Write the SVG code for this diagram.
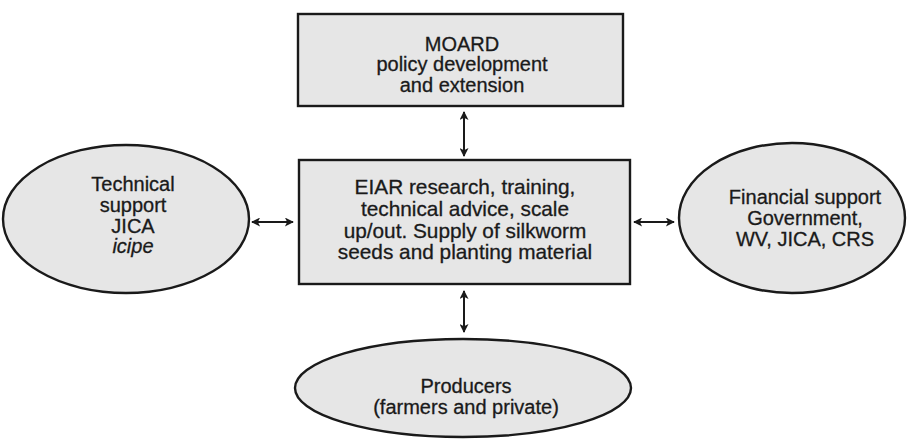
<svg xmlns="http://www.w3.org/2000/svg" width="907" height="444" viewBox="0 0 907 444">
<style>
.shape{fill:#e6e6e6;stroke:#1a1a1a;stroke-width:2.4}
.t{font-family:"Liberation Sans",Arial,sans-serif;font-size:20px;fill:#1a1a1a;stroke:#1a1a1a;stroke-width:0.3;text-anchor:middle}
.e{font-size:20.8px}
.c{stroke:#1a1a1a;stroke-width:2;fill:none;marker-start:url(#ah);marker-end:url(#ah)}
</style>
<defs>
<marker id="ah" viewBox="0 0 10 10" refX="9" refY="5" markerWidth="11" markerHeight="9" markerUnits="userSpaceOnUse" orient="auto-start-reverse">
<path d="M0,0 L10,5 L0,10 L2.5,5 Z" fill="#1a1a1a"/>
</marker>
</defs>
<rect width="907" height="444" fill="#ffffff"/>
<g id="connectors">
<line class="c" x1="464" y1="112" x2="464" y2="156"/>
<line class="c" x1="464" y1="291" x2="464" y2="332"/>
<line class="c" x1="252" y1="222" x2="293" y2="222"/>
<line class="c" x1="634" y1="222" x2="674" y2="222"/>
</g>
<g id="moard">
<rect class="shape" x="298" y="14" width="325" height="92"/>
<text class="t" x="462" y="51">MOARD</text>
<text class="t" x="462" y="71">policy development</text>
<text class="t" x="462" y="92">and extension</text>
</g>
<g id="eiar">
<rect class="shape" x="299" y="160" width="331" height="124"/>
<text class="t e" x="465" y="194">EIAR research, training,</text>
<text class="t e" x="465" y="216">technical advice, scale</text>
<text class="t e" x="465" y="238">up/out. Supply of silkworm</text>
<text class="t e" x="465" y="259">seeds and planting material</text>
</g>
<g id="technical">
<ellipse class="shape" cx="126" cy="219" rx="123" ry="74"/>
<text class="t" x="133" y="191">Technical</text>
<text class="t" x="133" y="212">support</text>
<text class="t" x="133" y="233">JICA</text>
<text class="t" x="133" y="253" font-style="italic">icipe</text>
</g>
<g id="financial">
<ellipse class="shape" cx="792" cy="218" rx="113" ry="75"/>
<text class="t" x="805" y="204">Financial support</text>
<text class="t" x="805" y="225">Government,</text>
<text class="t" x="805" y="246">WV, JICA, CRS</text>
</g>
<g id="producers">
<ellipse class="shape" cx="463" cy="388" rx="168" ry="49"/>
<text class="t" x="466" y="393">Producers</text>
<text class="t" x="466" y="414">(farmers and private)</text>
</g>
</svg>
